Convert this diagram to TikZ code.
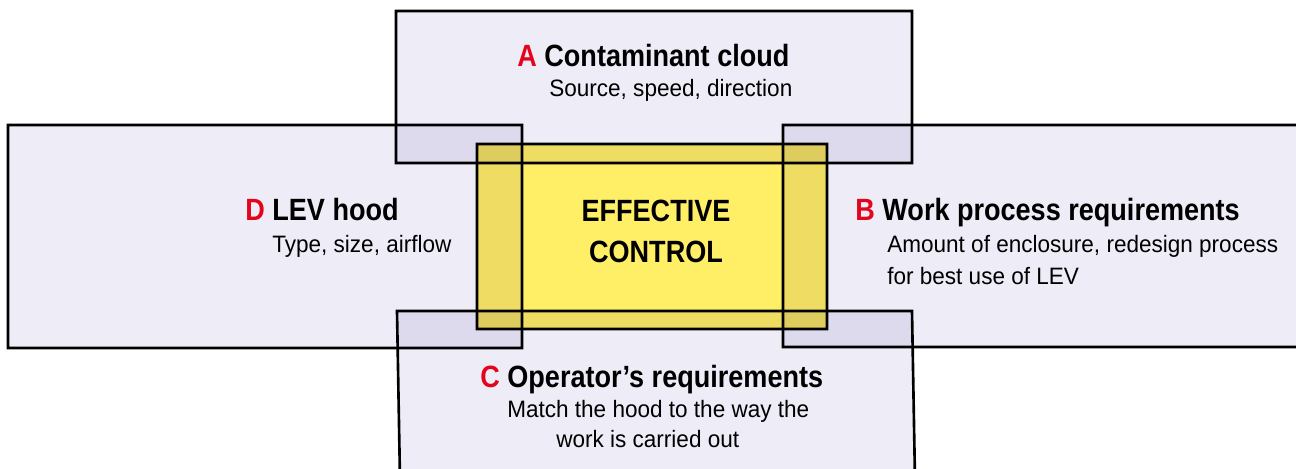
\documentclass[tikz,border=0pt]{standalone}
\usepackage{fontspec}
\newfontfamily\headfont[FakeStretch=0.88]{Liberation Sans}
\newfontfamily\bodyfont[FakeStretch=0.95]{Liberation Sans}
\definecolor{boxfill}{HTML}{EEECF6}
\definecolor{ctrlfill}{HTML}{FFEF66}
\definecolor{letred}{HTML}{E3051B}
\tikzset{
  area/.style={draw=black, line width=1.5pt, fill=boxfill},
  title/.style={anchor=base west, inner sep=0pt, font=\headfont\bfseries\fontsize{17.5}{20}\selectfont},
  sub/.style={anchor=base west, inner sep=0pt, font=\bodyfont\fontsize{13.5}{16}\selectfont},
}
\begin{document}
\begin{tikzpicture}[x=0.02cm, y=-0.02cm]
  \useasboundingbox (0,0) rectangle (1296,469);
  \clip (0,0) rectangle (1296,469);
  \fill[white] (0,0) rectangle (1296,469);
  \begin{scope}[blend group=multiply]
    \draw[area] (396,11) rectangle (912,163);
    \draw[area] (8,125) rectangle (522,348);
    \draw[area] (783,125) rectangle (1310,347);
    \draw[area] (397,311) -- (912,311) -- (915,480) -- (400,480) -- cycle;
    \draw[area, fill=ctrlfill] (477,144) rectangle (827,329);
  \end{scope}
  \node [title] (ta) at (517,67) {\textcolor{letred}{A} Contaminant cloud};
  \node [sub] (sa) at (549,97) {Source, speed, direction};
  \node [title] (td) at (245,221) {\textcolor{letred}{D} LEV hood};
  \node [sub] (sd) at (272,253) {Type, size, airflow};
  \node [title] (tb) at (855,221) {\textcolor{letred}{B} Work process requirements};
  \node [sub] (sb1) at (887,253) {Amount of enclosure, redesign process};
  \node [sub] (sb2) at (887,285) {for best use of LEV};
  \node [title] (tc) at (480,388) {\textcolor{letred}{C} Operator’s requirements};
  \node [sub] (sc1) at (507,418) {Match the hood to the way the};
  \node [sub] (sc2) at (556,448) {work is carried out};
  \node [title, anchor=base] (e1) at (656,222) {EFFECTIVE};
  \node [title, anchor=base] (e2) at (656,263) {CONTROL};
\end{tikzpicture}
\end{document}
